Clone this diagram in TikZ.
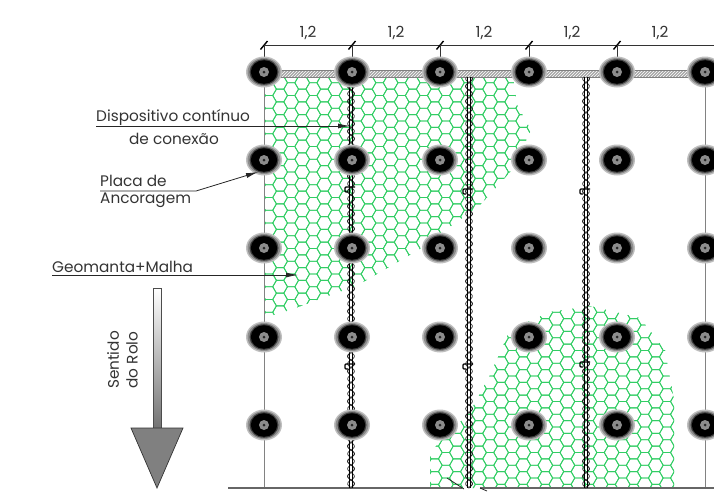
\documentclass[tikz,border=0pt]{standalone}
\usepackage{fontspec}
\setmainfont{Poppins}
\usetikzlibrary{patterns,arrows.meta}
\definecolor{meshgreen}{RGB}{50,205,100}
\definecolor{framegray}{RGB}{130,130,130}
\tikzset{
  labeltext/.style={font=\fontsize{15.3pt}{17pt}\selectfont\color{black!80},inner sep=0pt,align=center},
  leader/.style={draw=black!85,line width=.8pt},
  leaderarrow/.style={leader,-{Latex[length=12pt,width=5pt]}},
  meshline/.style={draw=meshgreen,line width=.85pt},
  platemark/.style={circle,minimum size=26pt,inner sep=0pt},
  frameline/.style={draw=framegray,line width=.9pt},
  dimline/.style={draw=black!80,line width=.7pt},
}
\newcommand{\hexfield}{%
  \foreach \i in {0,...,45}{
    \foreach \j in {0,...,34}{
      \pgfmathsetmacro{\cx}{258+\i*11.05}
      \pgfmathsetmacro{\cy}{70+\j*12.75+(mod(\i,2)==1?6.375:0)}
      \draw[meshline] (\cx-7.37,\cy)--(\cx-3.68,\cy-6.375)--(\cx+3.68,\cy-6.375)--(\cx+7.37,\cy)--(\cx+3.68,\cy+6.375)--(\cx-3.68,\cy+6.375)--cycle;
    }
  }
}
\newcommand{\plate}[3]{%
  \node[platemark] (#3) at (#1,#2) {};
  \fill[black!25] (#1,#2) ellipse [x radius=18pt,y radius=15.5pt];
  \fill[black!45] (#1,#2) ellipse [x radius=16.5pt,y radius=14pt];
  \fill[black!75] (#1,#2) ellipse [x radius=14.5pt,y radius=12.8pt];
  \fill[black] (#1,#2) ellipse [x radius=13.2pt,y radius=11.8pt];
  \fill[black!45] (#1,#2) circle [radius=5pt];
  \fill[black!85] (#1,#2) circle [radius=1.5pt];
}
\newcommand{\cable}[3]{%
  \draw[black!85,line width=1pt,domain=#2:#3,samples=420,variable=\t] plot ({#1+3.4*sin(\t*24)},\t);
  \draw[black!70,line width=.8pt,domain=#2:#3,samples=420,variable=\t] plot ({#1-3.4*sin(\t*24)},\t);
  \draw[black,line width=1.1pt] (#1-1.3,#2)--(#1-1.3,#3);
  \draw[black,line width=1.1pt] (#1+1.3,#2)--(#1+1.3,#3);
}
\newcommand{\cableclip}[2]{%
  \draw[black,line width=1.2pt,rounded corners=1pt] (#1+4,#2-3)--(#1-6,#2-3)--(#1-6,#2+2)--(#1-3,#2+2);
}
\begin{document}
\begin{tikzpicture}[x=1pt,y=-1pt]
\useasboundingbox (0,0) rectangle (714,491);
% mesh patches
\begin{scope}
  \clip (264,77)--(513,77)--(517,105)--(531,130)--(512,170)--(480,205)--(418,250)--(358,285)--(290,310)--(264,318)--cycle;
  \hexfield
\end{scope}
\begin{scope}
  \clip (430,488)--(430,452)--(470,412)--(490,375)--(510,330)--(550,312)--(590,306)--(640,318)--(665,350)--(674,400)--(674,488)--cycle;
  \hexfield
\end{scope}
% frame
\coordinate (frameTop) at (264,72);
\coordinate (frameBottom) at (264,488);
\draw[frameline] (frameTop)--(frameBottom);
\coordinate (col6Top) at (705,72);
\coordinate (col6Bottom) at (705,488);
\draw[frameline] (col6Top)--(col6Bottom);
\coordinate (bl) at (228,488);
\coordinate (bm) at (462,488);
\coordinate (bn) at (480,488);
\coordinate (br) at (714,488);
\draw[frameline,draw=black!60,line width=1.1pt] (bl)--(bm);
\draw[frameline,draw=black!60,line width=1.1pt] (bn)--(br);
\coordinate (brkA) at (447,478);
\coordinate (brkB) at (464,489);
\coordinate (brkC) at (480,488);
\coordinate (brkD) at (487,491);
\draw[leader] (brkA)--(brkB);
\draw[leader] (brkC)--(brkD);
% top strip
\fill[black!35] (264,70) rectangle (714,77);
\fill[pattern=north east lines,pattern color=white] (264,70) rectangle (714,77);
\draw[black!50,line width=.4pt] (264,70)--(714,70) (264,77)--(714,77);
% dimension line
\coordinate (d0) at (264,45);
\coordinate (d5) at (714,45);
\draw[dimline] (d0)--(d5);
\foreach \x in {264,352,440,529,617}{
  \draw[black,line width=1.4pt] (\x-3.5,49.5)--(\x+3.5,41);
  \draw[dimline] (\x,45)--(\x,58);
}
\foreach \x in {308,396,484,572,660}{
  \node[labeltext] at (\x,33) {1,2};
}
% cables
\cable{351}{85}{488}
\cable{469}{77}{488}
\cable{586}{77}{488}
\cableclip{351}{190}
\cableclip{351}{367}
\cableclip{469}{192}
\cableclip{469}{367}
\cableclip{586}{192}
\cableclip{586}{365}
% plates
\foreach \r/\y in {1/72,2/160,3/248,4/337,5/425}{
  \foreach \c/\x in {1/264,2/352,3/440,4/529,5/617,6/705}{
    \plate{\x}{\y}{p\r\c}
  }
}
% labels
\node[labeltext,anchor=west] (disp) at (96,118) {Dispositivo contínuo};
\node[labeltext] (conex) at (174,139) {de conexão};
\coordinate (dispStart) at (96,126);
\coordinate (dispEnd) at (350,126);
\draw[leaderarrow] (dispStart)--(dispEnd);
\node[labeltext,anchor=west] (placa) at (100,181) {Placa de};
\node[labeltext,anchor=west] (ancor) at (100,200) {Ancoragem};
\coordinate (placaStart) at (100,191);
\coordinate (placaBend) at (196,191);
\coordinate (placaEnd) at (258,172);
\draw[leaderarrow] (placaStart)--(placaBend)--(placaEnd);
\node[labeltext,anchor=west] (geo) at (52,267) {Geomanta+Malha};
\coordinate (geoStart) at (52,275);
\coordinate (geoEnd) at (298,275);
\draw[leaderarrow] (geoStart)--(geoEnd);
% direction arrow
\path[top color=white,bottom color=black!55,draw=black!70,line width=.7pt] (153,288) rectangle (161,428);
\path[fill=black!50,draw=black!80,line width=.7pt] (131,428)--(183,428)--(157,488)--cycle;
\node[labeltext,rotate=90] (sent) at (113,360) {Sentido};
\node[labeltext,rotate=90] (rolo) at (132,360) {do Rolo};
\end{tikzpicture}
\end{document}
